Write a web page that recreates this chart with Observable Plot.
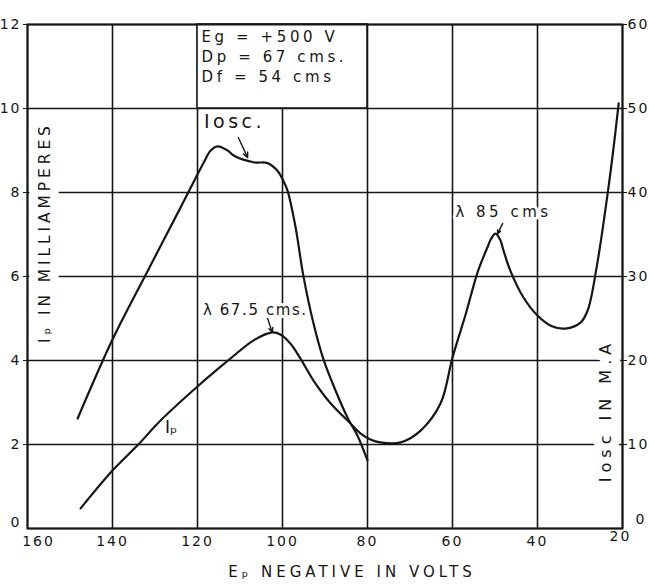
<!DOCTYPE html>
<html><head><meta charset="utf-8">
<script src="https://cdn.jsdelivr.net/npm/d3@7"></script>
<script src="https://cdn.jsdelivr.net/npm/@observablehq/plot@0.6"></script>
<style>
body{margin:0;background:#fff;}
#chart svg{display:block;}
</style></head><body><div id="chart"></div>
<script>
// axis ticks
const xTicks = [160, 140, 120, 100, 80, 60, 40, 20];
const yLeftTicks = [0, 2, 4, 6, 8, 10, 12];
const yRightTicks = [0, 10, 20, 30, 40, 50, 60];

// Ip curve: plate voltage (negative volts) vs plate current (mA, left axis)
const ipVolts = [147.5, 140.0, 134.1, 128.7, 119.8, 112.2, 106.8, 102.4, 100.5, 98.1, 95.8, 92.7, 88.7, 84.7, 81.6, 79.3, 77.0, 72.2, 67.5, 62.8, 60.0, 56.9, 54.1, 51.8, 51.0, 49.9, 48.8, 48.0, 46.4, 43.3, 40.0, 36.9, 33.4, 29.9, 28.2, 26.1, 23.3, 22.1, 20.9];
const ipMA    = [0.48, 1.38, 1.98, 2.57, 3.40, 4.05, 4.48, 4.67, 4.62, 4.40, 4.05, 3.52, 2.98, 2.57, 2.26, 2.12, 2.05, 2.05, 2.33, 2.98, 4.07, 5.10, 6.10, 6.69, 6.88, 7.02, 6.88, 6.62, 6.14, 5.50, 5.07, 4.83, 4.76, 4.90, 5.19, 6.21, 8.12, 9.07, 10.12];

// Iosc curve: plate voltage vs oscillating current (M.A., right axis)
const oscVolts = [148.2, 140.0, 132.0, 124.0, 118.5, 116.9, 115.3, 112.9, 111.5, 106.8, 103.5, 101.2, 99.8, 98.8, 96.9, 95.1, 92.7, 90.4, 87.5, 84.7, 82.4, 80.0];
const oscMA    = [13.1, 22.5, 30.4, 38.2, 43.6, 45.0, 45.5, 45.0, 44.4, 43.6, 43.5, 42.6, 41.4, 40.2, 35.8, 30.1, 24.4, 20.2, 16.4, 13.2, 11.1, 8.1];

// right axis (0-60 M.A.) spans the same height as left axis (0-12 mA)
const rightPerLeft = 5;

// info box and annotations
const infoBox = [{x1: 120, x2: 80, y1: 10, y2: 12}];
const infoText = "Eg = +500 V\nDp = 67 cms.\nDf = 54 cms";
const annoLabels = ["Iosc.", "λ 67.5 cms.", "λ 85 cms", "Iₚ"];
const annoX = [111.3, 106.4, 48.0, 126.2];
const annoY = [9.67, 5.19, 7.52, 2.40];
const annoSize = [19, 15, 15, 17];
const arrowX1 = [110.4, 103.5, 48.2];
const arrowY1 = [9.31, 5.00, 7.26];
const arrowX2 = [108.2, 102.4, 49.4];
const arrowY2 = [8.83, 4.67, 7.02];

const byX = (a, b) => a.x - b.x;
const ip = ipVolts.map((x, i) => ({x, y: ipMA[i]})).sort(byX);
const osc = oscVolts.map((x, i) => ({x, y: oscMA[i] / rightPerLeft})).sort(byX);
const annos = annoLabels.map((t, i) => ({t, x: annoX[i], y: annoY[i], s: annoSize[i]}));
const arrows = arrowX1.map((x1, i) => ({x1, y1: arrowY1[i], x2: arrowX2[i], y2: arrowY2[i]}));

const ink = "#161616";
const font = "DejaVu Sans";

const chart = Plot.plot({
  width: 649,
  height: 585,
  marginLeft: 27,
  marginRight: 27,
  marginTop: 24,
  marginBottom: 57,
  style: {fontFamily: font, fontSize: "14px", color: ink, background: "#fff"},
  x: {domain: [160, 20], axis: null},
  y: {domain: [0, 12], axis: null},
  marks: [
    Plot.ruleX(xTicks, {stroke: ink, strokeWidth: 1.6}),
    Plot.ruleY(yLeftTicks, {stroke: ink, strokeWidth: 1.6}),
    Plot.rect(infoBox, {x1: "x1", x2: "x2", y1: "y1", y2: "y2", fill: "white", stroke: ink, strokeWidth: 1.6}),
    Plot.text(infoBox, {x: "x1", y: "y2", text: () => infoText, textAnchor: "start", lineAnchor: "top", dx: 4, dy: 3, lineHeight: 1.35, fontSize: 15, fill: ink}),
    Plot.line(osc, {x: "x", y: "y", curve: "catmull-rom", stroke: ink, strokeWidth: 2.2}),
    Plot.line(ip, {x: "x", y: "y", curve: "catmull-rom", stroke: ink, strokeWidth: 2.2}),
    Plot.text(annos, {x: "x", y: "y", text: "t", fontSize: "s", fill: ink, stroke: "white", strokeWidth: 6}),
    Plot.arrow(arrows, {x1: "x1", y1: "y1", x2: "x2", y2: "y2", stroke: ink, strokeWidth: 1.4, headLength: 6, headAngle: 50}),
    Plot.text(["Iₚ IN MILLIAMPERES"], {frameAnchor: "left", textAnchor: "middle", rotate: -90, dx: 18, dy: -44, fontSize: 15.5, fill: ink, stroke: "white", strokeWidth: 18}),
    Plot.text(["Iosc IN M.A"], {frameAnchor: "right", textAnchor: "middle", rotate: -90, dx: -17, dy: 134, fontSize: 16, fill: ink, stroke: "white", strokeWidth: 18}),
    Plot.text(["Eₚ NEGATIVE IN VOLTS"], {frameAnchor: "bottom", textAnchor: "middle", dx: 27, dy: 48, lineAnchor: "bottom", fontSize: 15, fill: ink}),
    Plot.axisX(xTicks.filter(v => v !== 160 && v !== 20), {anchor: "bottom", tickSize: 0, tickPadding: 8, fontSize: 14, fill: ink}),
    Plot.axisX([160], {anchor: "bottom", tickSize: 0, tickPadding: 8, dx: 11, fontSize: 14, fill: ink}),
    Plot.axisX([20], {anchor: "bottom", tickSize: 0, tickPadding: 3, dx: -2, fontSize: 14, fill: ink}),
    Plot.axisY(yLeftTicks.filter(v => v !== 0), {anchor: "left", tickSize: 4, tickPadding: 2, fontSize: 14, stroke: ink, fill: ink}),
    Plot.axisY([0], {anchor: "left", tickSize: 0, tickPadding: 6, dy: -6, fontSize: 14, fill: ink}),
    Plot.axisY(yRightTicks.filter(v => v !== 0).map(v => v / rightPerLeft), {anchor: "right", tickSize: 4, tickPadding: 1, tickFormat: d => Math.round(d * rightPerLeft), fontSize: 14, stroke: ink, fill: ink}),
    Plot.axisY([0], {anchor: "right", tickSize: 0, tickPadding: 13, dy: -9, tickFormat: d => Math.round(d * rightPerLeft), fontSize: 14, fill: ink}),
    Plot.frame({stroke: ink, strokeWidth: 2})
  ]
});

// letter spacing of the hand-lettered texts
const spacing = {
  "Iₚ IN MILLIAMPERES": 3.9,
  "Iosc IN M.A": 5,
  "Eₚ NEGATIVE IN VOLTS": 4,
  "Iosc.": 3.5,
  "λ 67.5 cms.": 1.6,
  "λ 85 cms": 3.5,
  "Iₚ": 0
};
d3.select(chart).selectAll("text").each(function() {
  const t = this.textContent;
  if (t in spacing) this.style.letterSpacing = spacing[t] + "px";
  else if (t.startsWith("Eg")) this.style.letterSpacing = "3.6px";
  else if (/^\d+$/.test(t)) this.style.letterSpacing = "2px";
});
document.getElementById("chart").append(chart);
</script>
</body></html>
